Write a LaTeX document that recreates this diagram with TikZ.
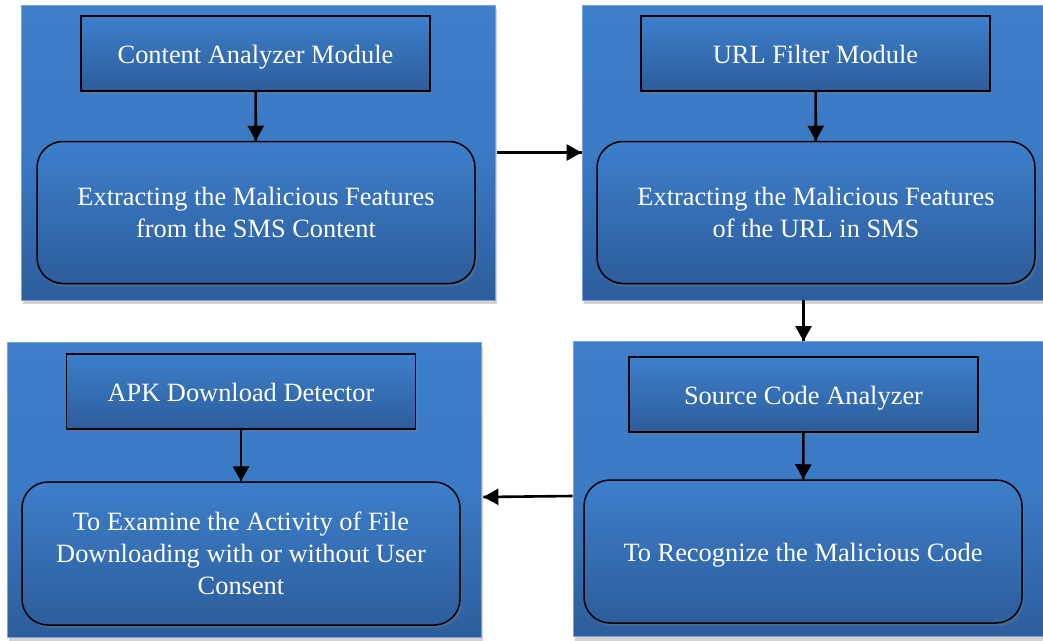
\documentclass[tikz,border=0pt]{standalone}
\usepackage{fontspec}
\setmainfont{Liberation Serif}
\usetikzlibrary{decorations.markings,arrows.meta,shadows,positioning}
\definecolor{bluetop}{RGB}{61,127,203}
\definecolor{bluebot}{RGB}{45,93,156}
\definecolor{panelrim}{RGB}{125,163,214}

\begin{document}
\begin{tikzpicture}[x=1pt, y=-1pt,
  panel/.style={rectangle, draw=panelrim, line width=0.8pt, top color=bluetop, bottom color=bluebot, middle color=bluetop!85!bluebot,
    minimum height=295pt, drop shadow={shadow xshift=2pt, shadow yshift=-4pt, opacity=0.35}},
  txt/.style={text=white, align=center, font=\fontsize{26.4}{32}\selectfont},
  modbox/.style={txt, rectangle, draw=black, line width=1.5pt, top color=bluetop, bottom color=bluebot,
    text height=22pt, text depth=3pt,
    minimum width=349pt, minimum height=75pt, drop shadow={shadow xshift=2pt, shadow yshift=-3pt, opacity=0.3}},
  featbox/.style={txt, rectangle, rounded corners=26pt, draw=black, line width=1.5pt, top color=bluetop, bottom color=bluebot,
    minimum width=438pt, minimum height=142pt, drop shadow={shadow xshift=2pt, shadow yshift=-3pt, opacity=0.3}},
  flow/.style={line width=2.6pt, decoration={markings,mark=at position 1 with {\arrow{Triangle[length=15pt,width=16pt]}}}, postaction={decorate}}]
\useasboundingbox (0,0) rectangle (1043,640);

% panels
\node (p1) [panel, minimum width=474pt] at (258,152.5) {};
\node (p2) [panel, minimum width=461pt] at (812.5,152.5) {};
\node (p3) [panel, minimum width=470pt] at (808,489) {};
\node (p4) [panel, minimum width=474pt] at (244,490) {};

% top row
\node (m1) [modbox] at (255.5,53.5) {Content Analyzer Module};
\node (f1) [featbox] at (256,212.5) {Extracting the Malicious Features\\from the SMS Content};
\node (m2) [modbox] at (815.5,53.5) {URL Filter Module};
\node (f2) [featbox] at (816,212.5) {Extracting the Malicious Features\\of the URL in SMS};

% bottom row
\node (m3) [modbox] at (803.5,394.5) {Source Code Analyzer};
\node (f3) [featbox, minimum height=143pt, text height=23pt, text depth=3pt] at (803,551.5) {To Recognize the Malicious Code};
\node (m4) [modbox] at (241,391.5) {APK Download Detector};
\node (f4) [featbox, minimum height=143pt] at (241,553.5) {To Examine the Activity of File\\Downloading with or without User\\Consent};

\draw[flow] (m1) -- (f1);
\draw[flow] ([xshift=2pt]p1.east) -- (p2.west);
\draw[flow] (m2) -- (f2);
\draw[flow] (m3 |- p2.south) -- (m3 |- p3.north);
\draw[flow] (m3) -- (f3);
\draw[flow] ([yshift=-7pt]p3.west) -- ([yshift=-7pt, xshift=2pt]p4.east);
\draw[flow] (m4) -- (f4);
\end{tikzpicture}
\end{document}
